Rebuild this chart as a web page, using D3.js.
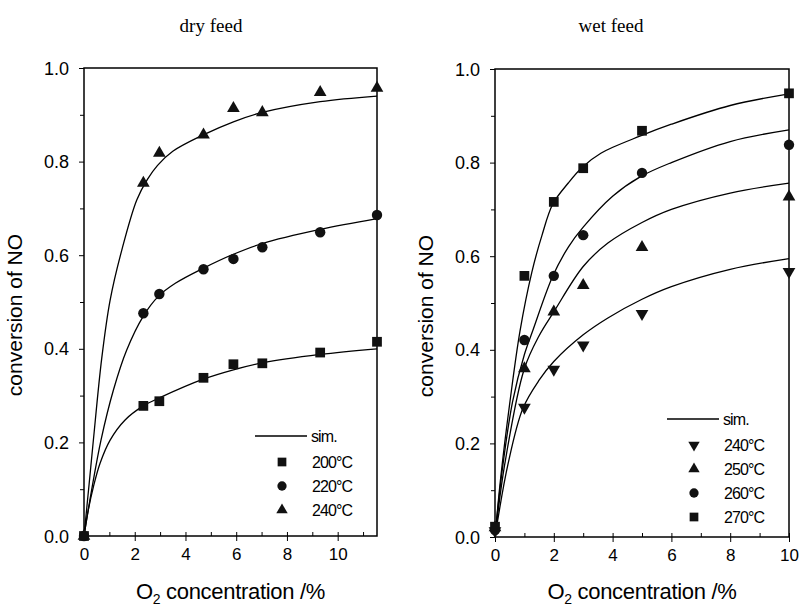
<!DOCTYPE html>
<html>
<head>
<meta charset="utf-8">
<script src="https://cdn.jsdelivr.net/npm/d3@7"></script>
<style>
  body { margin: 0; background: #fff; }
  svg { display: block; }
  .tick text { font-family: "Liberation Sans", Arial, sans-serif; }
</style>
</head>
<body>
<svg id="chart" width="800" height="610"></svg>
<script>
// ---- data ----
const dryX = [0, 2.34, 2.97, 4.71, 5.89, 7.03, 9.31, 11.55];
const dry200 = [0, 0.278, 0.288, 0.338, 0.367, 0.369, 0.392, 0.415];
const dry220 = [0, 0.476, 0.517, 0.570, 0.592, 0.617, 0.649, 0.686];
const dry240 = [0, 0.754, 0.818, 0.857, 0.914, 0.905, 0.948, 0.957];

const wetX = [0, 1, 2, 3, 5, 10];
const wet240 = [0.013, 0.277, 0.358, 0.410, 0.477, 0.567];
const wet250 = [0.020, 0.360, 0.481, 0.538, 0.619, 0.727];
const wet260 = [0.015, 0.421, 0.558, 0.645, 0.778, 0.838];
const wet270 = [0.022, 0.558, 0.716, 0.788, 0.868, 0.948];

// simulated curves, [O2 %, conversion]
const simDry200 = [[0,0],[0.17,0.056],[0.37,0.105],[0.63,0.155],[1.03,0.205],[1.62,0.248],[2.34,0.278],[2.97,0.295],[4.7,0.335],[5.89,0.355],[7.03,0.370],[9.31,0.388],[11.55,0.400]];
const simDry220 = [[0,0],[0.30,0.098],[0.67,0.205],[1.16,0.312],[1.68,0.397],[2.34,0.47],[2.93,0.512],[3.6,0.54],[4.7,0.572],[5.89,0.602],[7.03,0.625],[9.31,0.655],[11.55,0.678]];
const simDry240 = [[0,0],[0.2,0.11],[0.37,0.205],[0.70,0.38],[1.03,0.504],[1.49,0.611],[2.08,0.718],[2.5,0.762],[2.9,0.792],[3.5,0.822],[4.7,0.857],[5.89,0.885],[7.03,0.905],[9.31,0.928],[11.55,0.94]];

const simWet240 = [[0,0],[0.44,0.155],[0.95,0.275],[1.5,0.335],[2,0.375],[3,0.432],[3.84,0.468],[5,0.508],[6,0.535],[8,0.572],[10,0.595]];
const simWet250 = [[0,0],[0.33,0.155],[0.99,0.358],[1.5,0.43],[2,0.481],[3,0.578],[3.84,0.628],[5,0.672],[6,0.7],[8,0.735],[10,0.756]];
const simWet260 = [[0,0],[0.24,0.14],[0.6,0.29],[1,0.39],[1.28,0.44],[1.97,0.558],[2.5,0.62],[3,0.662],[4,0.728],[4.95,0.77],[6,0.8],[8,0.845],[10,0.87]];
const simWet270 = [[0,0],[0.2,0.13],[0.5,0.285],[0.85,0.44],[1.25,0.565],[1.6,0.645],[1.97,0.712],[2.5,0.757],[2.97,0.79],[3.6,0.82],[4.95,0.857],[6,0.882],[8,0.922],[10,0.947]];

const yTicks = [0, 0.2, 0.4, 0.6, 0.8, 1.0];
const dryXTicks = [0, 2, 4, 6, 8, 10];
const wetXTicks = [0, 2, 4, 6, 8, 10];

const svg = d3.select("#chart");

/**
 * Draws one framed panel with its markers, sim lines and legend.
 */
function drawPanel(p) {
  const x = d3.scaleLinear().domain(p.xDomain).range([p.left, p.right]);
  const y = d3.scaleLinear().domain([0, 1]).range([p.bottom, p.top]);
  const g = svg.append("g");

  // title
  g.append("text")
    .attr("x", p.titleX).attr("y", 32)
    .attr("text-anchor", "middle")
    .style("font-family", "'Liberation Serif', 'Times New Roman', serif")
    .style("font-size", "19px")
    .text(p.title);

  // y axis, outward ticks
  const yAxis = g.append("g")
    .attr("transform", `translate(${p.left},0)`)
    .call(d3.axisLeft(y).tickValues(yTicks).tickFormat(d3.format(".1f")).tickSize(5).tickPadding(10));
  yAxis.select(".domain").remove();
  yAxis.selectAll("text").style("font-size", "18px").attr("dy", "0.34em");
  g.append("g")
    .attr("transform", `translate(${p.left},0)`)
    .call(d3.axisLeft(y).tickValues(d3.range(0.1, 1, 0.2)).tickFormat("").tickSize(4))
    .select(".domain").remove();

  // x axis, major ticks crossing, minor inward
  const xAxis = g.append("g")
    .attr("transform", `translate(0,${p.bottom})`)
    .call(d3.axisBottom(x).tickValues(p.xTicks).tickFormat(d3.format("d")).tickSize(5).tickPadding(7));
  xAxis.select(".domain").remove();
  xAxis.selectAll("text").style("font-size", "17px");
  xAxis.selectAll(".tick line").attr("y1", -4);
  g.append("g")
    .attr("transform", `translate(0,${p.bottom})`)
    .call(d3.axisTop(x).tickValues(p.xMinor).tickFormat("").tickSize(4))
    .select(".domain").remove();

  // frame
  g.append("rect")
    .attr("x", p.left).attr("y", p.top)
    .attr("width", p.right - p.left).attr("height", p.bottom - p.top)
    .attr("fill", "none").attr("stroke", "#000").attr("stroke-width", 1.5);

  // axis titles
  g.append("text")
    .attr("transform", `translate(${p.left - 62},${(p.top + p.bottom) / 2 + 13}) rotate(-90)`)
    .attr("text-anchor", "middle")
    .style("font-family", "'Liberation Sans', Arial, sans-serif")
    .style("font-size", "21px")
    .text("conversion of NO");

  const xl = g.append("text")
    .attr("x", (p.left + p.right) / 2).attr("y", 599)
    .attr("text-anchor", "middle")
    .style("font-family", "'Liberation Sans', Arial, sans-serif")
    .style("font-size", "22px")
    .style("letter-spacing", "-0.3px");
  xl.append("tspan").text("O");
  xl.append("tspan").attr("dy", 5).style("font-size", "14px").text("2");
  xl.append("tspan").attr("dy", -5).text(" concentration /%");

  // sim lines
  const line = d3.line().x(d => x(d[0])).y(d => y(d[1])).curve(d3.curveCatmullRom.alpha(0.5));
  g.append("g").selectAll("path")
    .data(p.sims)
    .enter()
    .append("path")
    .attr("d", line)
    .attr("fill", "none")
    .attr("stroke", "#000")
    .attr("stroke-width", 1.3);

  // markers
  p.series.forEach(s => {
    g.append("g").selectAll("path")
      .data(s.values.map((v, i) => [p.xs[i], v]))
      .enter()
      .append("path")
      .attr("d", d3.symbol().type(s.type).size(s.size))
      .attr("transform", d => `translate(${x(d[0])},${y(d[1])})${s.flip ? " rotate(180)" : ""}`)
      .attr("fill", "#111");
  });

  // legend
  const lg = g.append("g").attr("transform", `translate(${p.legX},${p.legY})`);
  lg.append("line").attr("x1", -27).attr("x2", 25).attr("y1", 0).attr("y2", 0)
    .attr("stroke", "#000").attr("stroke-width", 1.3);
  lg.append("text").attr("x", 29).attr("y", 6)
    .style("font-family", "'Liberation Sans', Arial, sans-serif").style("font-size", "16px")
    .style("letter-spacing", "-0.9px")
    .text("sim.");
  p.series.forEach((s, i) => {
    const row = lg.append("g").attr("transform", `translate(0,${26 + i * 24})`);
    row.append("path")
      .attr("d", d3.symbol().type(s.type).size(s.size * 0.8))
      .attr("transform", s.flip ? "rotate(180)" : null)
      .attr("fill", "#111");
    row.append("text").attr("x", 30).attr("y", 6)
      .style("font-family", "'Liberation Sans', Arial, sans-serif").style("font-size", "16px")
      .style("letter-spacing", "-0.9px")
      .text(s.label);
  });
}

drawPanel({
  title: "dry feed", titleX: 211,
  left: 84, right: 377, top: 68, bottom: 536,
  xDomain: [0, 11.55], xTicks: dryXTicks, xMinor: [1, 3, 5, 7, 9, 11],
  xs: dryX,
  sims: [simDry200, simDry220, simDry240],
  series: [
    { label: "200°C", values: dry200, type: d3.symbolSquare, size: 95 },
    { label: "220°C", values: dry220, type: d3.symbolCircle, size: 85 },
    { label: "240°C", values: dry240, type: d3.symbolTriangle, size: 70 }
  ],
  legX: 282, legY: 436
});

drawPanel({
  title: "wet feed", titleX: 611,
  left: 495, right: 789, top: 69, bottom: 537,
  xDomain: [0, 10], xTicks: wetXTicks, xMinor: [1, 3, 5, 7, 9],
  xs: wetX,
  sims: [simWet240, simWet250, simWet260, simWet270],
  series: [
    { label: "240°C", values: wet240, type: d3.symbolTriangle, size: 70, flip: true },
    { label: "250°C", values: wet250, type: d3.symbolTriangle, size: 70 },
    { label: "260°C", values: wet260, type: d3.symbolCircle, size: 85 },
    { label: "270°C", values: wet270, type: d3.symbolSquare, size: 95 }
  ],
  legX: 694, legY: 419
});
</script>
</body>
</html>
